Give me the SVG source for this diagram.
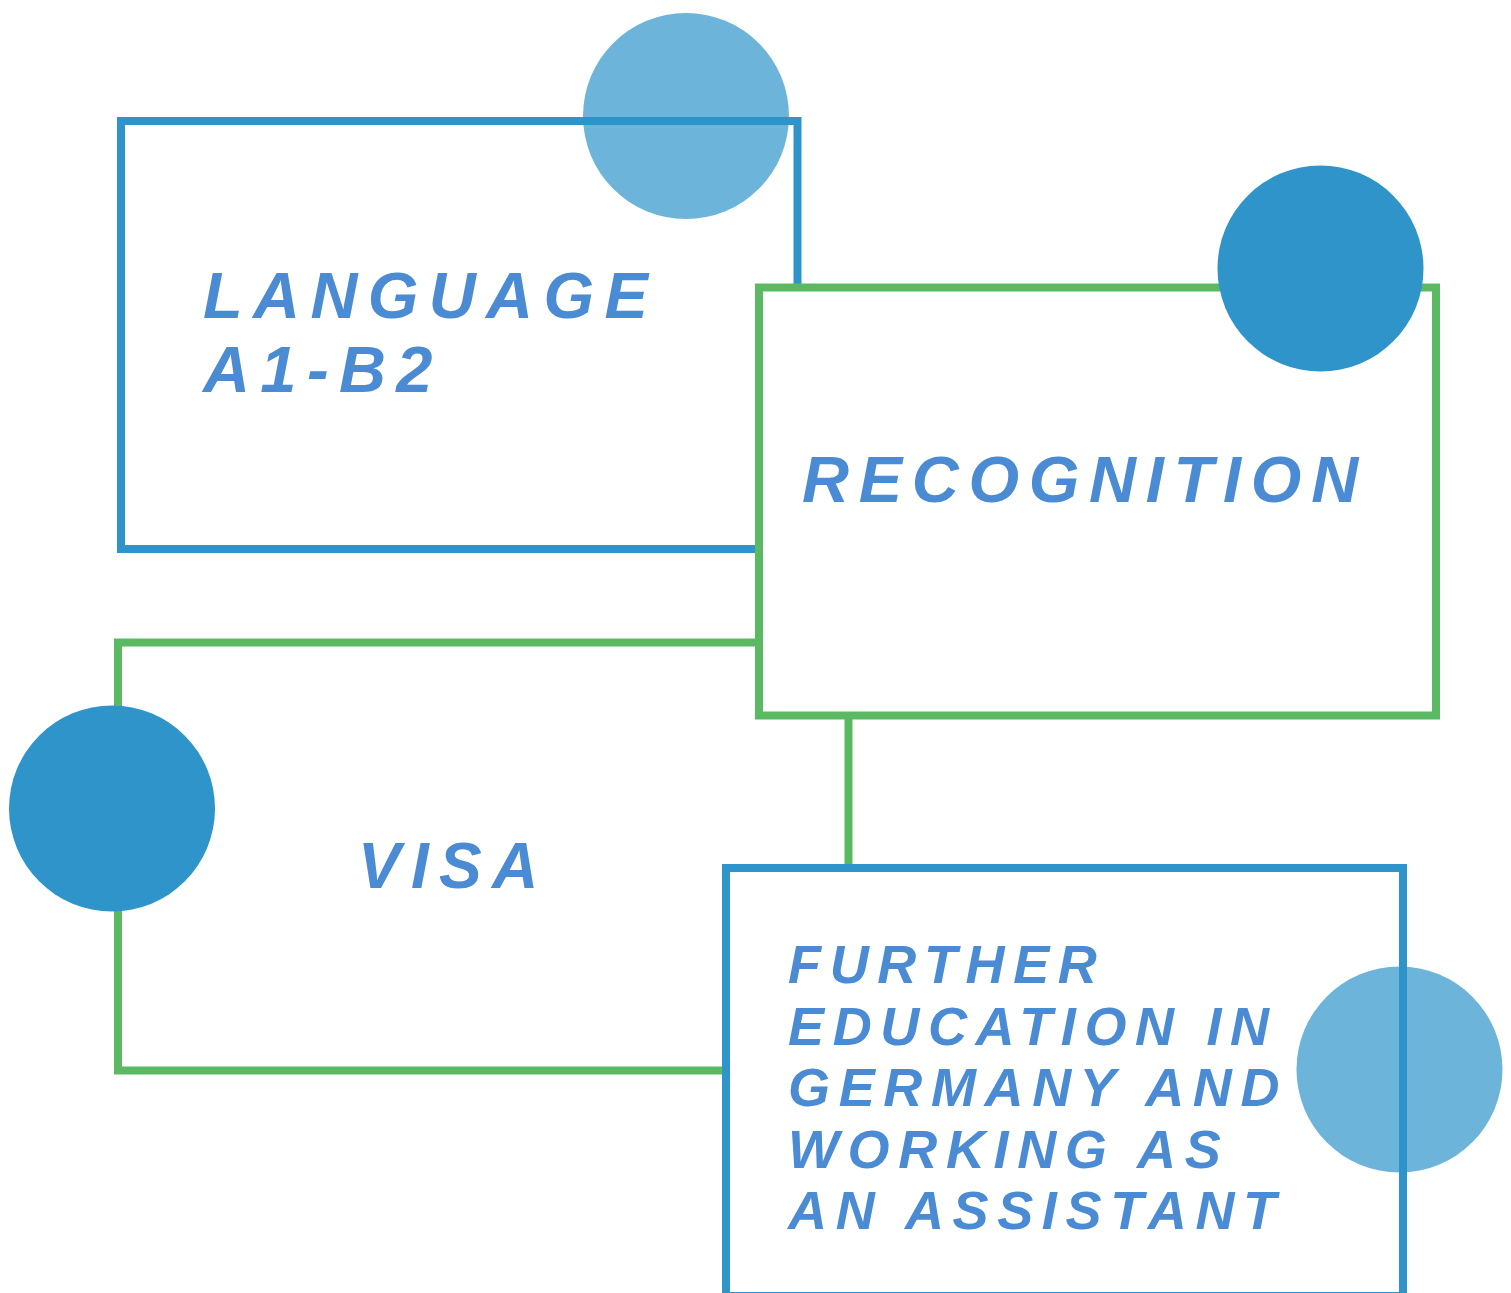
<svg xmlns="http://www.w3.org/2000/svg" width="1511" height="1293" viewBox="0 0 1511 1293">
<style>
.box{stroke-width:8;}
.blue{stroke:#2E94C9;}
.green{stroke:#5CB963;}
.dot{fill:#2E94C9;}
.light{fill:#2E94C9;fill-opacity:0.7;}
.t{font-family:"Liberation Sans",Arial,sans-serif;font-weight:bold;font-style:italic;fill:#4A8BD4;letter-spacing:0.16em;}
</style>
<rect width="1511" height="1293" fill="#ffffff"/>
<g id="language">
<rect class="box blue" x="121" y="121" width="676.5" height="428" fill="none"/>
<text class="t" x="203" y="318" font-size="65">LANGUAGE</text>
<text class="t" x="203" y="392" font-size="65">A1-B2</text>
</g>
<g id="visa">
<rect class="box green" x="118" y="642.5" width="730.5" height="428" fill="#ffffff"/>
<text class="t" x="358" y="888" font-size="64">VISA</text>
</g>
<g id="recognition">
<rect class="box green" x="759" y="287.5" width="677" height="428" fill="#ffffff"/>
<text class="t" x="802" y="502" font-size="65" style="letter-spacing:0.15em">RECOGNITION</text>
</g>
<g id="further-education">
<rect class="box blue" x="726" y="868" width="677" height="428" fill="#ffffff"/>
<text class="t" font-size="54"><tspan x="788" y="983">FURTHER</tspan><tspan x="788" y="1045">EDUCATION IN</tspan><tspan x="788" y="1106">GERMANY AND</tspan><tspan x="788" y="1168">WORKING AS</tspan><tspan x="788" y="1229">AN ASSISTANT</tspan></text>
</g>
<g id="dots">
<circle class="light" cx="686" cy="116" r="103"/>
<circle class="dot" cx="1320.5" cy="268.5" r="103"/>
<circle class="dot" cx="112" cy="808.5" r="103"/>
<circle class="light" cx="1399.5" cy="1069.5" r="103"/>
</g>
</svg>
